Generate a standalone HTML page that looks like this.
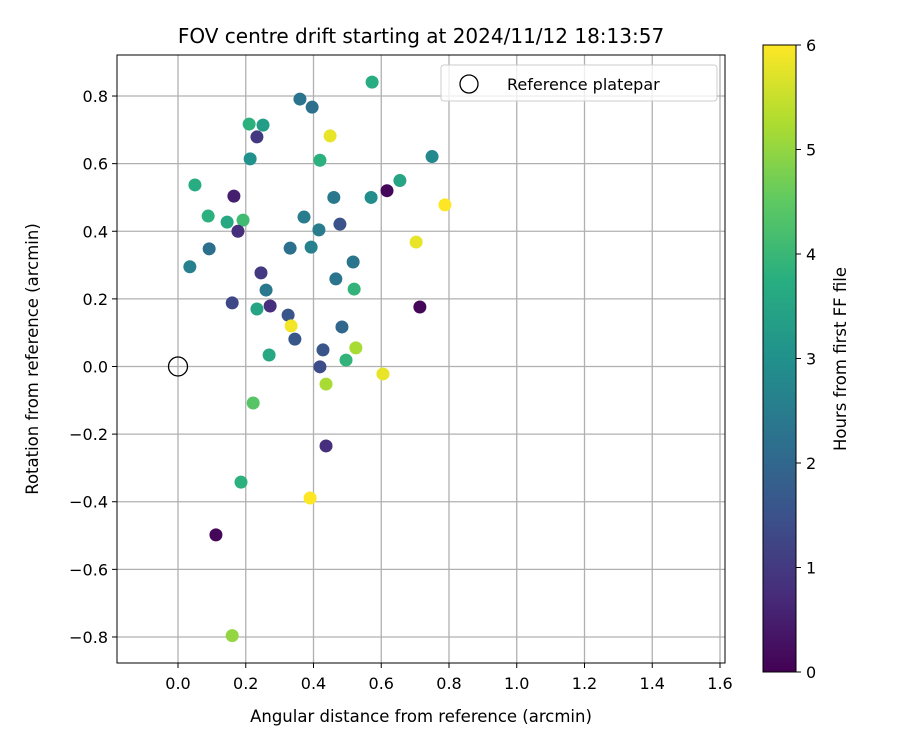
<!DOCTYPE html>
<html><head><meta charset="utf-8"><style>body{margin:0;background:#fff}svg{font-family:"DejaVu Sans","Liberation Sans",sans-serif}</style></head>
<body>
<svg id="c" width="900" height="750" xmlns="http://www.w3.org/2000/svg">
<defs><linearGradient id="vg" x1="0" y1="1" x2="0" y2="0">
<stop offset="0" stop-color="#440154"/><stop offset="0.125" stop-color="#472d7b"/><stop offset="0.25" stop-color="#3b528b"/><stop offset="0.375" stop-color="#2c728e"/><stop offset="0.5" stop-color="#21918c"/><stop offset="0.625" stop-color="#28ae80"/><stop offset="0.75" stop-color="#5ec962"/><stop offset="0.875" stop-color="#addc30"/><stop offset="1" stop-color="#fde725"/></linearGradient></defs>
<g id="grid"></g>
<g id="pts"></g>
<rect x="117" y="55" width="608" height="608" fill="none" stroke="#000" stroke-width="1"/>
<g id="ticks"></g>
<text x="421" y="43" font-size="20" text-anchor="middle">FOV centre drift starting at 2024/11/12 18:13:57</text>
<text x="421" y="722" font-size="16.5" text-anchor="middle">Angular distance from reference (arcmin)</text>
<text transform="translate(38,359) rotate(-90)" font-size="16.5" text-anchor="middle">Rotation from reference (arcmin)</text>
<g>
<rect x="441" y="65" width="276" height="36" rx="3" fill="#fff" fill-opacity="0.8" stroke="#ccc"/>
<circle cx="469" cy="84" r="9" fill="none" stroke="#000" stroke-width="1.3"/>
<text x="507" y="90" font-size="16">Reference platepar</text></g>
<rect x="763" y="45" width="33" height="627" fill="url(#vg)" stroke="#000"/>
<g id="cb"></g>
<text transform="translate(846,359) rotate(-90)" font-size="16.5" text-anchor="middle">Hours from first FF file</text>
</svg>
<script>
const xs=[0.573,0.36,0.396,0.21,0.251,0.449,0.233,0.213,0.419,0.75,0.05,0.655,0.617,0.57,0.46,0.165,0.788,0.089,0.145,0.192,0.372,0.478,0.177,0.416,0.092,0.331,0.393,0.703,0.035,0.517,0.245,0.466,0.26,0.52,0.16,0.233,0.272,0.714,0.325,0.334,0.484,0.345,0.428,0.269,0.525,0.496,0.419,0.605,0.437,0.222,0.437,0.186,0.39,0.112,0.16];
const ys=[0.841,0.791,0.767,0.717,0.714,0.682,0.679,0.614,0.61,0.621,0.537,0.55,0.52,0.5,0.5,0.504,0.478,0.445,0.427,0.433,0.442,0.421,0.4,0.404,0.348,0.35,0.353,0.368,0.295,0.309,0.277,0.259,0.226,0.229,0.188,0.17,0.179,0.176,0.152,0.12,0.117,0.081,0.049,0.034,0.055,0.019,-0.001,-0.022,-0.052,-0.108,-0.235,-0.342,-0.389,-0.498,-0.796];
const hours=[3.7,2.3,2.2,3.8,3.3,5.8,1.0,3.0,3.8,2.8,3.7,3.5,0.1,2.9,2.4,0.5,6,3.8,3.6,4.1,2.5,1.5,0.8,2.5,2.2,2.2,2.6,5.8,2.6,2.3,1.0,2.3,2.4,3.9,1.3,3.5,0.8,0.1,1.6,5.9,2.0,1.6,1.6,3.6,5.2,3.9,1.4,5.8,5.2,4.4,0.8,3.8,6,0.1,5.0];
const xTicks=[0,0.2,0.4,0.6,0.8,1.0,1.2,1.4,1.6];
const yTicks=[-0.8,-0.6,-0.4,-0.2,0,0.2,0.4,0.6,0.8];
const cTicks=[0,1,2,3,4,5,6];
const X=v=>178+v*338.75, Y=v=>366.5-v*338.1, C=v=>672-v*627/6;
const NS="http://www.w3.org/2000/svg";
const vir=[[68,1,84],[71,45,123],[59,82,139],[44,114,142],[33,145,140],[40,174,128],[94,201,98],[173,220,48],[253,231,37]];
function col(h){let t=Math.max(0,Math.min(1,h/6))*8,i=Math.min(7,Math.floor(t)),f=t-i,a=vir[i],b=vir[i+1];return`rgb(${a.map((v,k)=>Math.round(v+(b[k]-v)*f)).join(',')})`;}
function mk(p,tag,at){const e=document.createElementNS(NS,tag);for(const k in at)e.setAttribute(k,at[k]);p.appendChild(e);return e;}
const g=document.getElementById('grid'),tk=document.getElementById('ticks'),pts=document.getElementById('pts'),cb=document.getElementById('cb');
const fmt=v=>(v<0?'\u2212':'')+Math.abs(v).toFixed(1);
xTicks.forEach(v=>{mk(g,'line',{x1:X(v),x2:X(v),y1:55,y2:663,stroke:'#b0b0b0','stroke-width':1.3});mk(tk,'line',{x1:X(v),x2:X(v),y1:663,y2:668,stroke:'#000'});const t=mk(tk,'text',{x:X(v),y:689,'font-size':16,'text-anchor':'middle'});t.textContent=fmt(v);

});
yTicks.forEach(v=>{mk(g,'line',{x1:117,x2:725,y1:Y(v),y2:Y(v),stroke:'#b0b0b0','stroke-width':1.3});mk(tk,'line',{x1:112,x2:117,y1:Y(v),y2:Y(v),stroke:'#000'});const t=mk(tk,'text',{x:108,y:Y(v)+6,'font-size':16,'text-anchor':'end'});t.textContent=fmt(v);

});
xs.forEach((x,i)=>{const c=mk(pts,'circle',{cx:X(x),cy:Y(ys[i]),r:6.5,fill:col(hours[i])});

});
const r=mk(pts,'circle',{cx:X(0),cy:Y(0),r:9.5,fill:'none',stroke:'#000','stroke-width':1.3});


cTicks.forEach(v=>{mk(cb,'line',{x1:796,x2:801,y1:C(v),y2:C(v),stroke:'#000'});const t=mk(cb,'text',{x:806,y:C(v)+6,'font-size':16});t.textContent=v;

});
</script>
</body></html>
